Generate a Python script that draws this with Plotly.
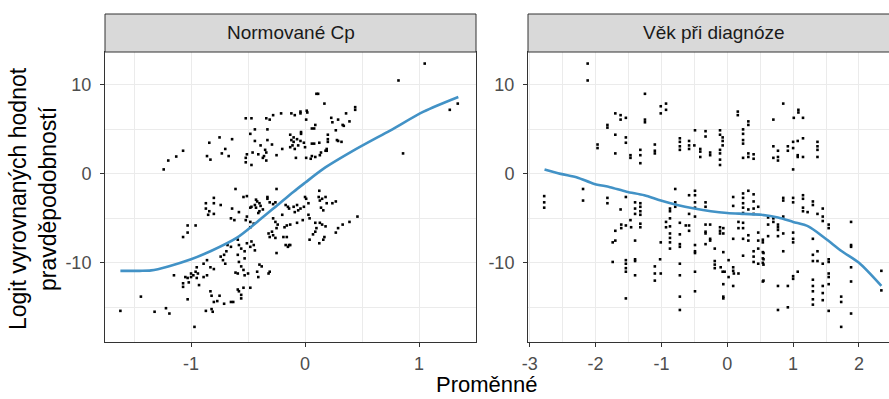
import plotly.graph_objects as go

# ---------------- data ----------------
panel_titles = ["Normované Cp", "Věk při diagnóze"]
y_title = "Logit vyrovnaných hodnot<br>pravděpodobností"
x_title = "Proměnné"
x1_ticks = [-1, 0, 1]
x1_labels = ["-1", "0", "1"]
x2_ticks = [-3, -2, -1, 0, 1, 2]
x2_labels = ["-3", "-2", "-1", "0", "1", "2"]
y_ticks = [-10, 0, 10]
y_labels = ["-10", "0", "10"]

cp_pts = [
    (-1.24,0.5),(-1.2,1.5),(-1.13,1.95),(-1.07,2.6),(-0.84,3.5),(-0.86,2.0),(-0.83,1.6),(-0.75,4.1),(-0.73,2.3),(-0.7,2.8),
    (-0.67,2.0),(-0.64,3.9),(-0.52,6.25),(-0.47,6.25),(-0.52,1.8),(-0.51,2.2),(-0.52,1.3),(-0.47,1.0),(-0.48,4.5),(-0.46,2.4),
    (-0.44,5.0),(-0.44,3.7),(-0.41,2.2),(-0.39,3.2),(-0.34,6.25),(-0.31,6.1),(-0.33,5.0),(-0.33,3.8),(-0.29,3.3),(-0.28,6.6),
    (-0.21,6.8),(-0.2,2.8),(-0.25,2.1),(-0.35,2.7),(-0.34,2.4),(-0.36,2.0),(-0.34,1.5),(-0.37,1.8),(-0.13,4.4),(-0.12,3.8),
    (-0.13,3.0),(-0.12,6.8),
    (0.1,9.0),(0.115,9.0),(0.17,7.9),(-0.09,6.6),(-0.04,7.0),(-0.04,6.8),(0.015,7.1),(0.02,6.9),(0.01,6.1),(0.44,7.5),
    (0.44,7.2),(0.36,6.8),(0.23,6.3),(0.29,6.1),(0.39,5.9),(0.24,5.8),(0.33,5.5),(0.34,5.4),(0.09,5.5),(0.06,5.1),
    (0.08,5.1),(0.27,4.9),(0.2,4.4),(0.2,3.9),(0.2,3.6),(0.19,2.8),(0.19,2.6),(0.28,3.8),(0.29,3.7),(0.32,3.6),
    (0.125,3.5),(0.08,3.4),(0.06,3.4),(-0.035,4.7),(-0.035,4.5),(-0.1,4.1),(-0.07,3.9),(-0.04,3.7),(-0.01,3.5),(-0.06,3.2),
    (-0.09,2.8),(0.0,3.0),(-0.11,3.2),(-0.1,3.6),(-0.08,1.8),(0.01,1.8),(0.06,2.0),(0.09,1.9),(0.05,1.7),(0.14,2.4),
    (0.13,2.1),(0.18,2.6),(1.05,12.4),(0.82,10.5),(0.86,2.3),(1.27,7.2),(1.34,7.9),(0.125,-1.9),
    (-0.61,-1.7),(-0.25,-1.7),(-0.54,-2.6),(-0.51,-2.5),(-0.43,-2.9),(-0.42,-3.1),(-0.4,-3.3),(-0.44,-3.5),(-0.39,-3.6),(-0.37,-4.0),
    (-0.4,-4.2),(-0.43,-3.8),(-0.41,-4.4),(-0.33,-2.6),(-0.33,-2.8),(-0.31,-3.2),(-0.28,-3.4),(-0.26,-3.2),(-0.8,-2.7),(-0.8,-3.3),
    (-0.87,-3.3),(-0.87,-3.9),(-0.74,-3.5),(-0.84,-4.2),(-0.85,-4.6),(-0.8,-4.5),(-0.64,-3.9),(-0.65,-5.0),(-0.62,-5.2),(-0.58,-4.3),
    (-0.48,-3.8),(-0.47,-3.7),(-0.51,-4.8),(-0.52,-5.2),(-0.48,-5.4),(-0.45,-5.6),(-0.48,-6.0),(-0.28,-5.0),(-0.26,-5.4),(-0.24,-5.7),
    (-0.25,-6.1),(-0.29,-6.5),(-0.32,-6.7),(-0.31,-7.1),(-0.28,-6.9),(-0.26,-7.2),(-0.18,-6.0),(-0.16,-5.8),(-0.19,-7.1),(-0.16,-7.1),
    (-0.17,-8.0),(-0.15,-8.2),(-0.14,-8.0),(-0.25,-8.9),(-1.03,-5.8),(-1.03,-6.6),(-1.07,-7.1),(-0.96,-5.8),(-0.65,-8.2),(-0.68,-8.0),
    (-0.69,-8.7),(-0.71,-9.1),(-0.74,-9.3),(-0.72,-9.7),(-0.7,-10.1),(-0.59,-7.4),(-0.58,-8.0),(-0.56,-8.4),(-0.53,-8.7),(-0.59,-9.1),
    (-0.53,-9.5),(-0.58,-9.9),(-0.56,-10.4),(-0.54,-10.8),(-0.5,-11.2),(-0.53,-11.4),(-0.59,-11.2),(-0.61,-11.1),(-0.47,-7.6),(-0.45,-8.0),
    (-0.44,-8.6),(-0.51,-7.8),(-0.48,-8.2),(-0.4,-10.2),(-0.38,-10.4),(-0.42,-11.0),(-0.41,-11.6),(-0.32,-11.2),(-0.31,-11.0),(-0.86,-9.7),
    (-0.89,-10.1),(-0.95,-10.5),(-0.96,-11.0),(-0.98,-11.4),(-0.94,-11.2),(-0.95,-11.7),(-0.89,-11.6),(-0.86,-11.4),(-0.83,-10.5),(-0.8,-10.7),
    (-1.0,-11.2),(-1.0,-11.6),(-1.03,-11.7),(-1.05,-11.6),(-1.02,-12.2),(-0.93,-12.5),(-1.15,-11.4),(-1.07,-12.3),(-1.07,-12.7),(-1.03,-14.1),
    (-0.83,-13.2),(-0.82,-13.7),(-0.77,-14.3),(-0.75,-13.7),(-0.8,-14.4),(-0.71,-14.6),(-0.65,-14.4),(-0.63,-14.4),(-0.59,-13.0),(-0.58,-13.2),
    (-0.56,-13.6),(-0.54,-12.8),(-0.56,-14.0),(-0.48,-12.8),(-1.44,-13.8),(-1.62,-15.4),(-1.32,-15.5),(-1.22,-15.1),(-1.19,-15.7),(-0.87,-15.4),
    (-0.82,-15.2),(-0.81,-15.5),(-0.97,-17.2),
    (0.12,-2.6),(0.15,-2.8),(0.18,-2.6),(0.13,-3.0),(0.19,-3.3),(0.24,-3.3),(0.27,-3.1),(0.14,-3.8),(0.16,-4.1),(0.01,-2.8),
    (0.0,-2.6),(0.03,-3.3),(-0.07,-3.5),(-0.1,-3.7),(-0.04,-3.9),(-0.01,-3.7),(-0.09,-4.3),(-0.06,-4.1),(0.03,-4.6),(0.04,-5.0),
    (-0.13,-5.7),(-0.07,-5.5),(-0.02,-5.2),(0.09,-5.5),(0.13,-5.5),(0.15,-5.7),(0.18,-5.9),(0.1,-6.1),(0.09,-6.5),(0.07,-6.8),
    (0.04,-7.4),(0.125,-7.8),(0.16,-7.4),(0.17,-7.1),(0.27,-6.6),(0.29,-6.1),(0.33,-5.7),(0.39,-5.4),(0.46,-4.8),(-0.13,-8.0),
    (-0.17,-3.5),(-0.15,-3.7),(-0.14,-3.9),(-0.2,-4.6),
]

vek_pts = [
    (-2.12,12.4),(-2.12,10.5),(-1.25,9.0),(-1.25,6.1),(-1.25,5.8),(-1.7,6.8),(-1.62,6.6),(-1.62,6.1),(-1.54,6.3),(-1.82,5.5),
    (-1.82,5.2),(-1.7,4.4),(-1.54,4.1),(-1.54,3.5),(-1.97,3.3),(-1.97,2.9),(-1.7,2.3),(-1.47,2.1),(-1.47,1.8),(-1.32,2.7),
    (-1.32,2.1),(-1.32,1.2),(-2.78,-2.5),(-2.78,-3.2),(-2.78,-3.8),(-2.19,-1.7),(-2.19,-3.0),(-1.82,-2.7),(-1.82,-3.3),(-1.62,-4.0),
    (-1.54,-2.6),(-1.4,-3.2),(-1.4,-3.9),(-1.4,-4.5),(-1.32,-3.3),(-1.32,-3.7),(-1.32,-4.2),(-1.32,-4.6),(-1.47,-5.2),(-1.46,-6.0),
    (-1.61,-5.7),(-1.61,-6.1),(-1.54,-5.8),(-1.32,-5.6),(-1.32,-6.0),(-1.7,-6.4),(-1.7,-7.5),(-1.74,-7.7),(-1.4,-7.5),(-1.74,-9.9),
    (-1.54,-9.7),(-1.54,-10.1),(-1.54,-10.6),(-1.54,-11.0),(-1.4,-9.6),(-1.4,-9.8),(-1.4,-11.4),(-1.54,-14.0),
    (-1.01,7.6),(-1.01,6.8),(-0.93,7.9),(-0.93,7.2),(-1.1,3.3),(-1.1,2.6),(-1.1,2.3),(-0.72,4.0),(-0.72,3.6),(-0.72,3.1),
    (-0.72,2.7),(-0.58,3.7),(-0.58,3.2),(-0.58,2.8),(-0.5,3.2),(-0.49,4.9),(-0.41,2.8),(-0.41,2.5),(-0.41,1.9),(-0.33,4.8),
    (-0.33,4.2),(-0.26,2.4),(-0.26,2.1),(-0.11,4.9),(-0.11,4.4),(-0.11,2.7),(-0.11,2.3),(-0.11,1.6),(-0.11,1.0),(-0.07,4.1),
    (-0.07,3.7),(-0.07,3.2),(0.16,7.0),(0.16,6.6),(0.32,5.9),(0.32,5.5),(0.24,5.0),(0.24,4.5),(0.24,3.8),(0.24,3.4),
    (0.24,1.8),(0.32,2.3),(0.32,1.9),(0.4,2.2),(0.4,1.7),
    (-0.79,-1.7),(-0.49,-1.9),(-0.49,-2.4),(-0.79,-3.2),(-0.79,-3.7),(-0.87,-3.9),(-0.87,-4.2),(-0.58,-2.4),(-0.58,-4.5),(-0.49,-3.2),
    (-0.49,-3.8),(-0.33,-3.2),(-0.33,-3.7),(-0.49,-4.8),(0.09,-2.6),(0.09,-3.6),(0.24,-2.2),(0.24,-2.7),(0.24,-3.3),(0.24,-3.8),
    (0.24,-4.4),(0.32,-1.9),(0.32,-4.0),(0.4,-2.3),(0.4,-3.1),(0.4,-3.9),(0.4,-4.5),(0.47,-3.7),(-0.87,-5.0),(-0.87,-5.9),
    (-0.87,-6.7),(-0.87,-7.2),(-0.93,-5.4),(-0.93,-6.0),(-0.72,-5.5),(-0.72,-6.8),(-0.72,-7.9),(-0.72,-8.2),(-0.63,-5.8),(-0.58,-5.8),
    (-0.58,-6.4),(-0.87,-7.7),(-0.87,-8.4),(-1.01,-7.7),(-1.02,-9.6),(-1.1,-10.4),(-1.1,-11.2),(-1.1,-12.0),(-1.01,-11.2),(-0.49,-8.0),
    (-0.49,-8.7),(-0.49,-8.9),(-0.49,-11.0),(-0.49,-13.2),(-0.72,-10.1),(-0.72,-11.4),(-0.72,-13.8),(-0.72,-15.3),(-0.33,-5.7),(-0.33,-6.5),
    (-0.33,-6.7),(-0.33,-7.9),(-0.26,-5.7),(-0.26,-7.3),(-0.26,-7.5),(-0.19,-8.4),(-0.19,-9.8),(-0.19,-10.2),(-0.19,-10.6),(-0.11,-6.0),
    (-0.11,-6.4),(-0.11,-6.7),(-0.06,-6.1),(-0.06,-6.7),(-0.06,-8.8),(-0.1,-10.5),(-0.07,-11.0),(-0.04,-11.0),(-0.06,-12.4),(-0.06,-13.8),
    (-0.06,-14.0),(0.02,-9.7),(0.02,-11.6),(0.09,-10.5),(0.09,-10.9),(0.1,-11.2),(0.17,-11.2),(0.09,-12.6),(0.09,-7.3),(0.17,-5.4),
    (0.17,-6.1),(0.24,-5.5),(0.24,-6.1),(0.24,-7.3),(0.24,-9.2),(0.32,-6.9),(0.32,-7.5),(0.4,-8.7),(0.4,-9.3),(0.4,-9.9),
    (0.47,-6.6),(0.47,-7.5),(0.47,-8.4),(0.47,-10.1),(0.55,-8.9),(0.55,-9.6),(0.55,-10.2),(0.55,-12.0),
    (0.85,7.9),(1.08,7.2),(1.08,6.9),(0.7,6.1),(1.01,6.3),(1.15,6.3),(0.7,3.1),(0.77,2.6),(0.77,1.9),(0.77,1.5),
    (0.92,3.1),(0.92,2.6),(1.0,3.6),(1.0,2.9),(1.07,3.7),(1.15,4.0),(0.7,1.8),(1.07,2.1),(1.07,1.9),(1.15,1.9),
    (1.37,3.6),(1.37,3.1),(1.37,2.7),(1.37,1.9),(1.0,0.5),
    (0.85,-2.7),(0.85,-3.0),(1.0,-2.7),(1.0,-3.2),(1.15,-2.4),(1.15,-2.8),(1.3,-3.1),(1.3,-3.5),(1.15,-3.8),(1.15,-4.2),
    (1.22,-4.3),(1.45,-3.9),(1.37,-4.5),(1.45,-4.8),(1.45,-5.3),(1.54,-5.7),(1.54,-6.1),(0.85,-4.8),(0.62,-5.7),(0.62,-4.9),
    (0.7,-5.0),(0.7,-5.4),(0.77,-5.7),(0.77,-6.0),(0.77,-6.3),(0.85,-6.7),(1.0,-6.6),(1.0,-7.3),(1.0,-7.7),(0.77,-7.0),
    (0.62,-7.0),(0.54,-7.4),(0.54,-7.7),(0.54,-8.8),(0.54,-9.5),(0.54,-10.0),(0.85,-8.7),(1.3,-7.3),(1.3,-9.1),(1.3,-9.8),
    (1.37,-8.7),(1.37,-9.8),(1.45,-10.1),(1.54,-9.6),(1.54,-9.9),(1.54,-11.2),(1.54,-11.6),(1.54,-12.4),(1.88,-5.4),(1.88,-8.0),
    (1.88,-8.2),(1.88,-10.5),(1.88,-12.1),(1.88,-15.7),(2.34,-10.9),(2.34,-13.1),(1.07,-11.0),(1.0,-11.5),(1.0,-11.8),(0.77,-12.6),
    (0.92,-12.6),(0.54,-12.1),(1.3,-11.9),(1.3,-12.6),(1.3,-13.2),(1.45,-12.6),(1.45,-13.4),(1.45,-14.2),(1.3,-14.1),(1.3,-14.7),
    (0.92,-15.0),(0.77,-15.3),(1.54,-15.4),(1.73,-13.8),(1.73,-14.4),(1.73,-17.2),
]

# smoothed (loess) curves
cp_curve_x = [-1.62, -1.45, -1.35, -1.2, -1.0, -0.83, -0.6, -0.42, -0.25, -0.1, 0.0, 0.16, 0.45, 0.75, 1.04, 1.345]
cp_curve_y = [-10.9, -10.9, -10.85, -10.4, -9.6, -8.7, -7.2, -5.4, -3.6, -2.0, -1.0, 0.56, 2.8, 4.9, 7.0, 8.65]
vek_curve_x = [-2.775, -2.53, -2.28, -2.03, -1.78, -1.53, -1.26, -1.01, -0.76, -0.5, -0.25, 0.0, 0.26, 0.52, 0.77, 1.0, 1.23, 1.48, 1.74, 2.0, 2.34]
vek_curve_y = [0.5, 0.0, -0.4, -1.1, -1.5, -2.0, -2.4, -3.0, -3.5, -3.9, -4.2, -4.4, -4.5, -4.6, -4.9, -5.4, -5.9, -7.2, -8.7, -10.0, -12.6]

# ---------------- figure ----------------
W, H = 889, 399
FONT = "Liberation Sans, Arial, sans-serif"
P1 = (105, 476)
P2 = (528, 899)
PT, PB = 52, 342
ST = 14

def px(x):
    return x / W

def py(y):
    return 1 - y / H

fig = go.Figure()
for pts, xa, ya, cx, cy in [
    (cp_pts, "x", "y", cp_curve_x, cp_curve_y),
    (vek_pts, "x2", "y2", vek_curve_x, vek_curve_y),
]:
    fig.add_trace(go.Scatter(
        x=[p[0] for p in pts], y=[p[1] for p in pts], mode="markers",
        marker=dict(symbol="square", size=2.6, color="#000000", line=dict(width=0)),
        xaxis=xa, yaxis=ya, showlegend=False, hoverinfo="skip"))
    fig.add_trace(go.Scatter(
        x=cx, y=cy, mode="lines", line=dict(color="#4292C6", width=2.6, shape="spline", smoothing=0.8),
        xaxis=xa, yaxis=ya, showlegend=False, hoverinfo="skip"))

grid = "#EBEBEB"
line_c = "#333333"
tickfont = dict(family=FONT, size=18, color="#4D4D4D")

def xax(domain, rng, tv, tt):
    return dict(domain=domain, range=rng, tickvals=tv, ticktext=tt, ticks="outside", ticklen=4,
                tickcolor=line_c, tickwidth=1, showline=True, mirror=True, linecolor=line_c,
                linewidth=1, showgrid=True, gridcolor=grid, gridwidth=1.1, zeroline=False,
                tickfont=tickfont, automargin=False, ticklabelstandoff=1,
                minor=dict(dtick=0.5, tick0=0, showgrid=True, gridcolor=grid, gridwidth=0.6, ticks=""))

def yax(domain, rng, anchor, mirror):
    return dict(domain=domain, range=rng, tickvals=y_ticks, ticktext=y_labels, ticks="outside", ticklen=4,
                tickcolor=line_c, tickwidth=1, showline=True, mirror=mirror, linecolor=line_c,
                linewidth=1, showgrid=True, gridcolor=grid, gridwidth=1.1, zeroline=False,
                tickfont=tickfont, anchor=anchor, automargin=False, ticklabelstandoff=5,
                minor=dict(dtick=5, tick0=0, showgrid=True, gridcolor=grid, gridwidth=0.6, ticks=""))

ydom = [py(PB), py(PT)]
yr = [-18.9, 13.7]
fig.update_layout(
    width=W, height=H, margin=dict(l=0, r=0, t=0, b=0, autoexpand=False),
    paper_bgcolor="white", plot_bgcolor="white",
    font=dict(family=FONT),
    xaxis=xax([px(P1[0]), px(P1[1])], [-1.755, 1.5], x1_ticks, x1_labels),
    yaxis=yax(ydom, yr, "x", True),
    xaxis2=xax([px(P2[0]), 1.0], [-3.026, 2.456], x2_ticks, x2_labels),
    yaxis2=yax(ydom, yr, "x2", False),
)

shapes = []
annotations = []
for (x0, x1), title in zip([P1, P2], panel_titles):
    shapes.append(dict(type="rect", xref="paper", yref="paper", x0=px(x0), x1=px(x1),
                       y0=py(PT), y1=py(ST), fillcolor="#D9D9D9",
                       line=dict(color=line_c, width=1), layer="above"))
    annotations.append(dict(xref="paper", yref="paper", x=px((x0 + x1) / 2),
                            y=py((PT + ST) / 2), text=title, showarrow=False,
                            font=dict(family=FONT, size=19, color="#1A1A1A"),
                            xanchor="center", yanchor="middle"))
annotations.append(dict(xref="paper", yref="paper", x=px(487), y=py(384), text=x_title,
                        showarrow=False, font=dict(family=FONT, size=22, color="#000000"),
                        xanchor="center", yanchor="middle"))
annotations.append(dict(xref="paper", yref="paper", x=px(33), y=py(199), text=y_title,
                        showarrow=False, textangle=-90,
                        font=dict(family=FONT, size=23, color="#000000"),
                        xanchor="center", yanchor="middle"))
fig.update_layout(shapes=shapes, annotations=annotations)

fig.write_html("out.html")
